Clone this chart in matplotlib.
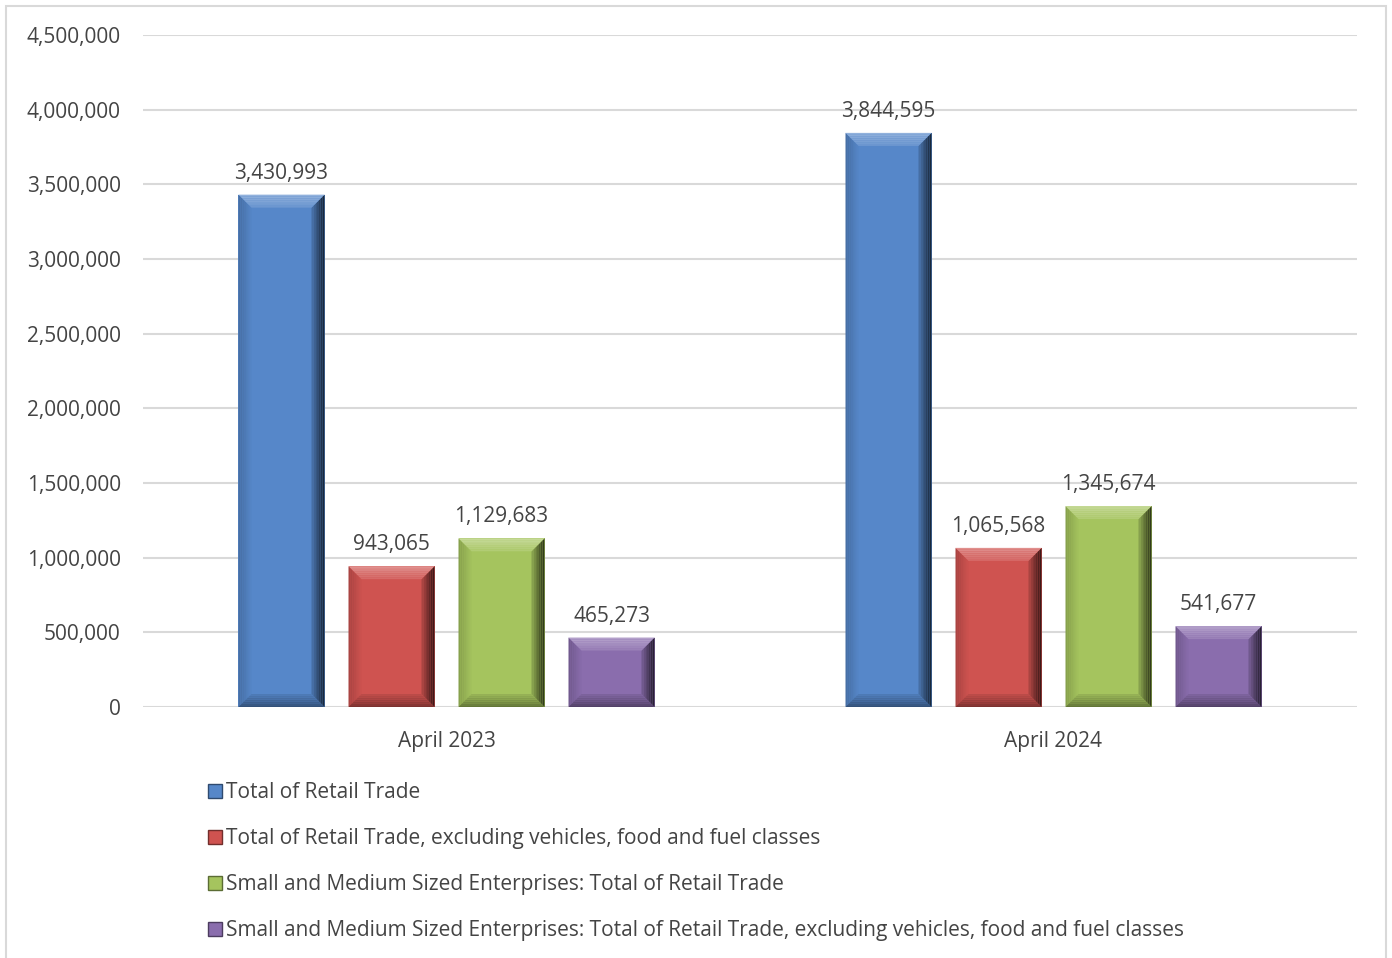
import matplotlib
matplotlib.use("Agg")
import matplotlib.pyplot as plt
from matplotlib.patches import Polygon, Rectangle
import numpy as np
import matplotlib.colors as mcolors

categories = ["April 2023", "April 2024"]
series_names = [
    "Total of Retail Trade",
    "Total of Retail Trade, excluding vehicles, food and fuel classes",
    "Small and Medium Sized Enterprises: Total of Retail Trade",
    "Small and Medium Sized Enterprises: Total of Retail Trade, excluding vehicles, food and fuel classes",
]
values = [
    [3430993, 3844595],
    [943065, 1065568],
    [1129683, 1345674],
    [465273, 541677],
]
colors = ["#5687C9", "#CF5350", "#A5C45E", "#8A6DAD"]
yticks = [0, 500000, 1000000, 1500000, 2000000, 2500000, 3000000, 3500000, 4000000, 4500000]

plt.rcParams['font.family'] = ['Open Sans', 'DejaVu Sans']
txt = "#444444"
fs = 15

fig = plt.figure(figsize=(13.92, 9.58), dpi=100)
ax = fig.add_axes([143/1392, 1-707/958, (1357-143)/1392, (707-35)/958])
ax.set_xlim(-0.5, 1.5)
ax.set_ylim(0, 4500000)

bw = 86/607
step = 110/607
offsets = (np.arange(4) - 1.5) * step

def shade(c, f):
    r, g, b = mcolors.to_rgb(c)
    if f >= 0:
        return (r + (1-r)*f, g + (1-g)*f, b + (1-b)*f)
    return (r*(1+f), g*(1+f), b*(1+f))

px_x = 1/607
px_y = 4500000/672
bev = 13
n = 7

for i, (vals, col) in enumerate(zip(values, colors)):
    xs = np.arange(len(categories)) + offsets[i]
    ax.bar(xs, vals, width=bw, color=col, zorder=3, linewidth=0)
    for x, v in zip(xs, vals):
        x0, x1 = x - bw/2, x + bw/2
        dx, dy = bev*px_x, bev*px_y
        dyv = min(dy, v/2)
        for k in range(n):
            a, b = k/n, (k+1)/n   # a outer -> b inner
            oa, ob = 1-a, 1-b
            # left
            ax.add_patch(Polygon([(x0+dx*a, dyv*a), (x0+dx*a, v-dyv*a),
                                  (x0+dx*b, v-dyv*b), (x0+dx*b, dyv*b)],
                                 closed=True, color=shade(col, -0.18*oa), lw=0, zorder=4))
            # right
            ax.add_patch(Polygon([(x1-dx*a, dyv*a), (x1-dx*a, v-dyv*a),
                                  (x1-dx*b, v-dyv*b), (x1-dx*b, dyv*b)],
                                 closed=True, color=shade(col, -0.1 - 0.6*oa), lw=0, zorder=4))
            # bottom
            ax.add_patch(Polygon([(x0+dx*a, dyv*a), (x1-dx*a, dyv*a),
                                  (x1-dx*b, dyv*b), (x0+dx*b, dyv*b)],
                                 closed=True, color=shade(col, -0.05 - 0.35*oa), lw=0, zorder=4))
            # top
            ax.add_patch(Polygon([(x0+dx*a, v-dyv*a), (x1-dx*a, v-dyv*a),
                                  (x1-dx*b, v-dyv*b), (x0+dx*b, v-dyv*b)],
                                 closed=True, color=shade(col, 0.1 + 0.25*oa), lw=0, zorder=4))
        ax.text(x, v + 11*px_y, f"{v:,}", ha='center', va='bottom', fontsize=fs, color=txt, zorder=6)

ax.set_yticks(yticks)
ax.set_yticklabels([f"{t:,}" for t in yticks], fontsize=fs, color=txt)
ax.set_xticks(range(len(categories)))
ax.set_xticklabels(categories, fontsize=fs, color=txt)
ax.tick_params(axis='both', length=0)
ax.tick_params(axis='y', pad=16)
ax.tick_params(axis='x', pad=17)
ax.grid(axis='y', color='#D9D9D9', lw=1.5, zorder=0)
for s in ax.spines.values():
    s.set_visible(False)

handles = [Rectangle((0, 0), 1, 1, facecolor=c, edgecolor=shade(c, -0.45), lw=1) for c in colors]
fig.legend(handles, series_names, loc='upper left', bbox_to_anchor=(208/1392, 1-782/958),
           frameon=False, fontsize=fs, labelcolor=txt, handlelength=0.65, handleheight=0.65,
           handletextpad=0.2, labelspacing=1.2, borderaxespad=0, borderpad=0)

fig.patches.append(Rectangle((6/1392, -0.01), (1386-6)/1392, 1 - 6/958 + 0.01, transform=fig.transFigure,
                             fill=False, edgecolor='#D9D9D9', lw=1.5))

fig.savefig("out.png", dpi=100)
